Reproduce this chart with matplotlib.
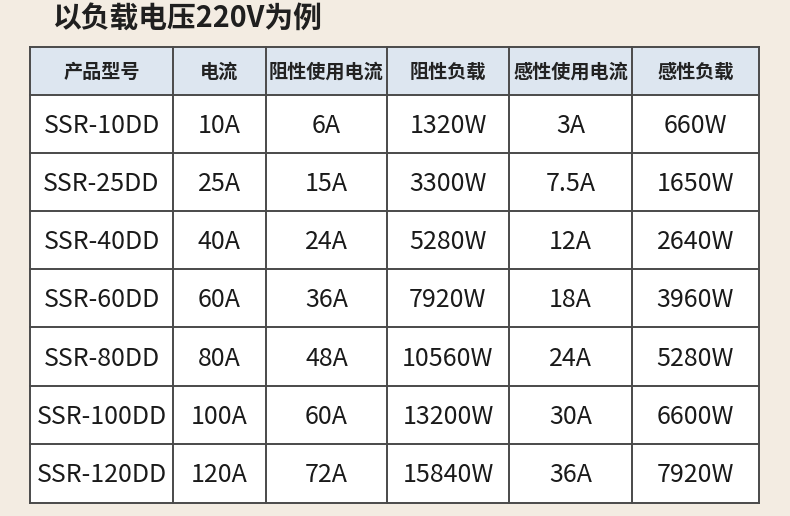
import matplotlib
matplotlib.use("Agg")
import matplotlib.pyplot as plt
from matplotlib.patches import Rectangle

plt.rcParams['font.family'] = ['Noto Sans CJK SC', 'DejaVu Sans']

title = "以负载电压220V为例"
headers = ["产品型号", "电流", "阻性使用电流", "阻性负载", "感性使用电流", "感性负载"]
models = ["SSR-10DD", "SSR-25DD", "SSR-40DD", "SSR-60DD", "SSR-80DD", "SSR-100DD", "SSR-120DD"]
current = ["10A", "25A", "40A", "60A", "80A", "100A", "120A"]
res_current = ["6A", "15A", "24A", "36A", "48A", "60A", "72A"]
res_load = ["1320W", "3300W", "5280W", "7920W", "10560W", "13200W", "15840W"]
ind_current = ["3A", "7.5A", "12A", "18A", "24A", "30A", "36A"]
ind_load = ["660W", "1650W", "2640W", "3960W", "5280W", "6600W", "7920W"]

columns = [models, current, res_current, res_load, ind_current, ind_load]

W, H = 790, 516
fig = plt.figure(figsize=(W / 100, H / 100), dpi=100)
fig.patch.set_facecolor("#f3ece2")
ax = fig.add_axes([0, 0, 1, 1])
ax.set_xlim(0, W)
ax.set_ylim(H, 0)
ax.axis("off")

col_edges = [30, 173, 266, 387, 509, 632, 759]
row_edges = [47, 95, 153, 211, 269, 327, 386, 444, 503]

# header fill
ax.add_patch(Rectangle((col_edges[0], row_edges[0]), col_edges[-1] - col_edges[0],
                       row_edges[1] - row_edges[0], facecolor="#dde6f0", edgecolor="none", zorder=1))
# body fill
ax.add_patch(Rectangle((col_edges[0], row_edges[1]), col_edges[-1] - col_edges[0],
                       row_edges[-1] - row_edges[1], facecolor="white", edgecolor="none", zorder=1))

lc = "#4a4a4a"
for x in col_edges:
    ax.plot([x, x], [row_edges[0], row_edges[-1]], color=lc, lw=1.4, zorder=3, solid_capstyle="projecting")
for y in row_edges:
    ax.plot([col_edges[0], col_edges[-1]], [y, y], color=lc, lw=1.4, zorder=3, solid_capstyle="projecting")

ax.text(52, 18, title, fontsize=20.7, fontweight="bold", color="#1f1f1f",
        ha="left", va="center", zorder=4)

for j, h in enumerate(headers):
    cx = (col_edges[j] + col_edges[j + 1]) / 2
    cy = (row_edges[0] + row_edges[1]) / 2
    ax.text(cx, cy + 1, h, fontsize=13.8, fontweight="bold", color="#222222",
            ha="center", va="center", zorder=4)

for j, col in enumerate(columns):
    cx = (col_edges[j] + col_edges[j + 1]) / 2
    for i, v in enumerate(col):
        cy = (row_edges[i + 1] + row_edges[i + 2]) / 2
        ax.text(cx, cy + 2, v, fontsize=18, color="#1a1a1a",
                ha="center", va="center", zorder=4)

fig.savefig("out.png", dpi=100, facecolor=fig.get_facecolor())
